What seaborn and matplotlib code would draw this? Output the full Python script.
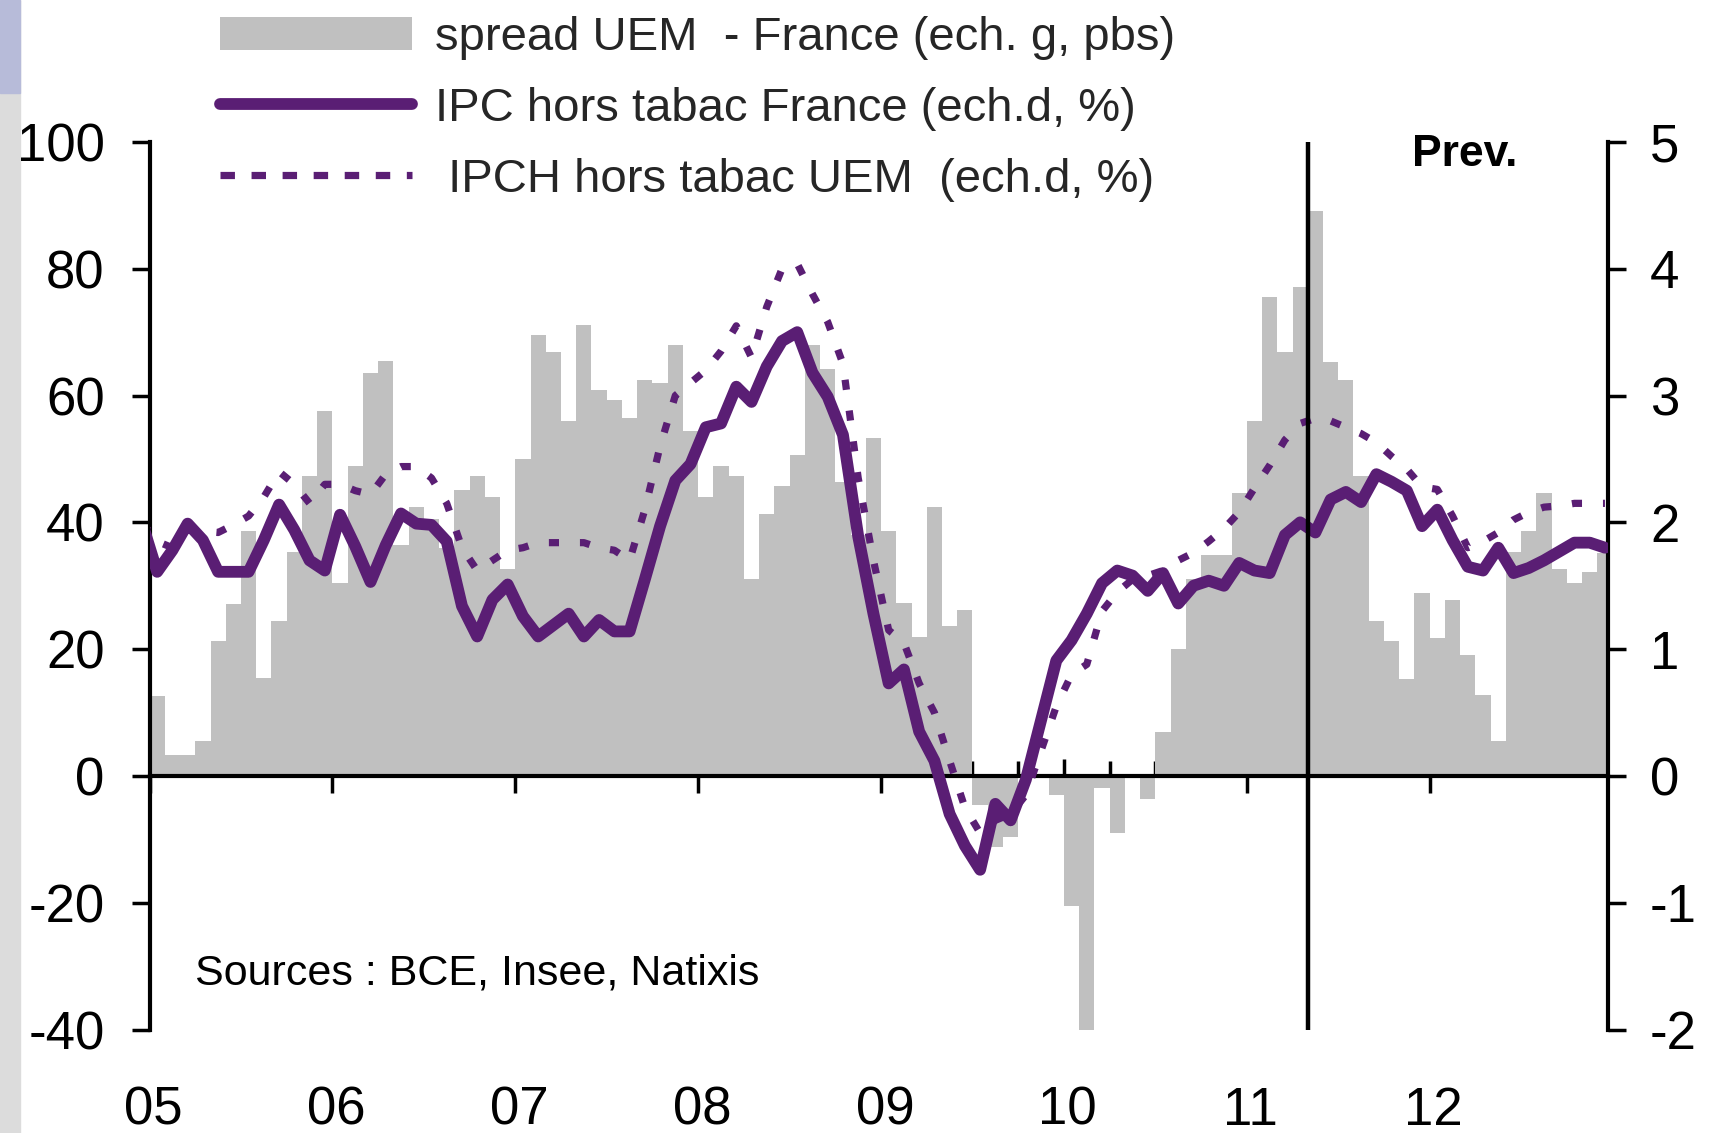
import matplotlib
matplotlib.use("Agg")
import matplotlib.pyplot as plt
from matplotlib.patches import Patch, Rectangle
from matplotlib.lines import Line2D
import seaborn as sns
import numpy as np
import pandas as pd

sns.set_theme(style="white")
plt.rcParams['font.family'] = ['Liberation Sans', 'DejaVu Sans']
plt.rcParams['axes.unicode_minus'] = False

# --- Données (mensuelles, janv. 2005 -> déc. 2012) ---
annees = ['05', '06', '07', '08', '09', '10', '11', '12']

# spread UEM - France, pbs (échelle gauche)
spread = [
    12.6, 3.3, 3.3, 5.5, 21.3, 27.2, 38.7, 15.4, 24.5, 35.3, 47.3, 57.6,    # 2005
    30.5, 48.9, 63.5, 65.4, 36.4, 42.4, 40.5, 36.0, 45.1, 47.3, 44.0, 32.6,  # 2006
    50.0, 69.5, 66.9, 56.0, 71.1, 60.9, 59.3, 56.5, 62.5, 62.0, 68.0, 54.4,  # 2007
    44.0, 48.9, 47.3, 31.1, 41.3, 45.7, 50.6, 68.0, 64.2, 46.3, 38.0, 53.3,  # 2008
    38.6, 27.3, 21.9, 42.4, 23.6, 26.2, -4.6, -11.2, -9.6, 0.0, 0.0, -3.0,   # 2009
    -20.5, -41.5, -1.9, -9.0, 0.0, -3.6, 7.0, 20.1, 31.0, 34.9, 34.9, 44.6,  # 2010
    56.0, 75.6, 66.9, 77.1, 89.1, 65.3, 62.5, 47.3, 24.4, 21.3, 15.3, 28.9,  # 2011
    21.8, 27.8, 19.1, 12.7, 5.5, 35.4, 38.7, 44.7, 32.6, 30.5, 32.2, 35.1,   # 2012
]

# IPC hors tabac France, % (échelle droite), de déc. 2004 à déc. 2012
ipc_france = [
    2.00,
    1.61, 1.78, 1.99, 1.86, 1.61, 1.61, 1.61, 1.86, 2.14, 1.94, 1.70, 1.62,
    2.06, 1.81, 1.53, 1.82, 2.07, 1.99, 1.98, 1.85, 1.34, 1.10, 1.39, 1.51,
    1.26, 1.10, 1.19, 1.28, 1.10, 1.23, 1.14, 1.14, 1.55, 1.97, 2.33, 2.46,
    2.75, 2.78, 3.07, 2.95, 3.23, 3.43, 3.50, 3.18, 2.99, 2.69, 1.89, 1.28,
    0.73, 0.84, 0.35, 0.12, -0.30, -0.55, -0.74, -0.22, -0.35, -0.03, 0.44, 0.91,
    1.07, 1.28, 1.52, 1.62, 1.58, 1.46, 1.60, 1.36, 1.50, 1.54, 1.50, 1.68,
    1.62, 1.60, 1.90, 2.00, 1.92, 2.18, 2.24, 2.16, 2.38, 2.32, 2.25, 1.97,
    2.10, 1.86, 1.65, 1.62, 1.80, 1.60, 1.64, 1.70, 1.77, 1.84, 1.84, 1.80,
]

# IPCH hors tabac UEM, % (échelle droite), de déc. 2004 à déc. 2012
ipch_uem = [
    2.00,
    1.85, 1.80, 1.94, 1.93, 1.92, 1.98, 2.05, 2.20, 2.40, 2.30, 2.15, 2.30,
    2.30, 2.25, 2.22, 2.38, 2.44, 2.44, 2.35, 2.15, 1.80, 1.62, 1.70, 1.78,
    1.80, 1.84, 1.84, 1.84, 1.84, 1.80, 1.78, 1.70, 2.10, 2.60, 3.00, 3.10,
    3.20, 3.35, 3.55, 3.30, 3.70, 4.00, 4.04, 3.80, 3.58, 3.25, 2.35, 1.70,
    1.15, 1.05, 0.73, 0.50, 0.12, -0.25, -0.45, -0.35, -0.30, -0.15, 0.20, 0.55,
    0.80, 0.88, 1.30, 1.45, 1.55, 1.58, 1.62, 1.70, 1.76, 1.85, 1.95, 2.08,
    2.27, 2.45, 2.65, 2.78, 2.82, 2.80, 2.75, 2.70, 2.63, 2.52, 2.42, 2.28,
    2.26, 2.05, 1.80, 1.85, 1.92, 2.02, 2.08, 2.12, 2.13, 2.15, 2.15, 2.15,
]

debut_prev = 76  # début des prévisions (mois depuis janv. 2005)

gris = '#C0C0C0'
violet = '#5A1E74'

fig = plt.figure(figsize=(17.11, 11.33), dpi=100)
ax = fig.add_axes([0.0874, 0.0913, 0.8524, 0.7834])
ax2 = ax.twinx()

# barres du spread
df_bar = pd.DataFrame({'mois': np.arange(len(spread)) + 0.5, 'spread': spread})
sns.barplot(data=df_bar, x='mois', y='spread', native_scale=True, width=1,
            color=gris, saturation=1, linewidth=0, errorbar=None, ax=ax)
for p in ax.patches:
    p.set_antialiased(False)

# courbes d'inflation
x_lignes = np.arange(-1, len(spread)) + 0.5
sns.lineplot(x=x_lignes, y=ipch_uem, ax=ax2, color=violet, lw=5.2,
             linestyle=(0, (1.4, 2.9)), zorder=3)
sns.lineplot(x=x_lignes, y=ipc_france, ax=ax2, color=violet, lw=8.5,
             solid_joinstyle='round', zorder=4)

ax2.axvline(debut_prev, color='black', lw=3.2, zorder=6)

ax.set_xlim(0, 95.7)
ax.set_ylim(-40, 100)
ax2.set_ylim(-2, 5)
for a in (ax, ax2):
    a.set_xlabel('')
    a.set_ylabel('')
    a.patch.set_visible(False)
ax.set_zorder(1)
ax2.set_zorder(2)

# axes et graduations
ax.spines['top'].set_visible(False)
ax.spines['right'].set_visible(False)
ax.spines['bottom'].set_position(('data', 0))
for s in ('left', 'bottom'):
    ax.spines[s].set_color('black')
    ax.spines[s].set_linewidth(3)
for s in ('left', 'top', 'bottom'):
    ax2.spines[s].set_visible(False)
ax2.spines['right'].set_color('black')
ax2.spines['right'].set_linewidth(3)

ax.set_yticks(range(-40, 101, 20))
ax2.set_yticks(range(-2, 6))
ax.set_xticks(np.arange(0, 96, 12))
ax.set_xticks(np.arange(3, 96, 3), minor=True)
ax.tick_params(axis='y', left=True, direction='out', length=13.3, width=2.5,
               labelsize=38, pad=19, colors='black')
ax.tick_params(axis='x', which='major', bottom=True, direction='inout',
               length=24.5, width=2.5, labelbottom=False, color='black')
ax.tick_params(axis='x', which='minor', bottom=True, direction='in',
               length=10.8, width=2.5, color='black')
ax2.tick_params(axis='y', right=True, labelright=True, direction='out',
                length=13.3, width=2.5, labelsize=38, pad=17, colors='black')

sec = ax.secondary_xaxis('bottom')
sec.set_xticks(np.arange(0, 96, 12) + 0.25, labels=annees)
sec.tick_params(length=0, labelsize=38, pad=40.5, colors='black')
sec.spines['bottom'].set_visible(False)

ax.text(86.3, 98, 'Prev.', ha='center', va='center', fontsize=32,
        fontweight='bold', color='black', zorder=7)
ax.text(3.0, -31.2, 'Sources : BCE, Insee, Natixis', ha='left', va='center',
        fontsize=31, color='black')

# légende
poignees = [
    Patch(facecolor=gris, edgecolor='none'),
    Line2D([], [], color=violet, lw=8.5, solid_capstyle='round'),
    Line2D([], [], color=violet, lw=5.2, linestyle=(0, (2.0, 2.3))),
]
libelles = ['spread UEM  - France (ech. g, pbs)',
            'IPC hors tabac France (ech.d, %)',
            ' IPCH hors tabac UEM  (ech.d, %)']
fig.legend(poignees, libelles, loc='upper left', bbox_to_anchor=(0.1286, 0.986),
           frameon=False, fontsize=34, handlelength=4.07, handleheight=0.68,
           handletextpad=0.49, labelspacing=0.57, borderpad=0, borderaxespad=0)

# bande grise à gauche de la capture
fig.add_artist(Rectangle((0, 0), 20 / 1711, 1, transform=fig.transFigure,
                         color='#dcdcdc', zorder=0))
fig.add_artist(Rectangle((0, 1 - 93 / 1133), 20 / 1711, 93 / 1133,
                         transform=fig.transFigure, color='#b7bbd9', zorder=0))

fig.savefig('out.png', dpi=100)
